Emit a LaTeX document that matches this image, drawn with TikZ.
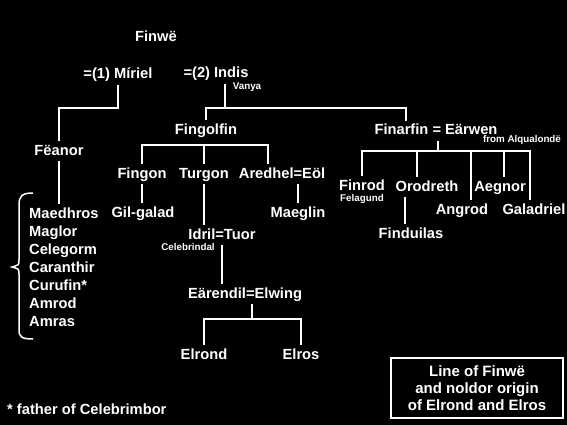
\documentclass[tikz,border=0pt]{standalone}
\usepackage{fontspec}
\setmainfont{Liberation Sans}
\usetikzlibrary{positioning}

\tikzset{
  person/.style={text=white, font=\bfseries\fontsize{14.7}{17}\selectfont,
    inner sep=3pt, text height=11pt, text depth=3pt},
  note/.style={text=white, font=\bfseries\fontsize{9.8}{11}\selectfont, inner sep=0pt},
  link/.style={draw=white, line width=2pt},
}

\begin{document}
\begin{tikzpicture}[x=1pt, y=-1pt]
\fill[black] (0,0) rectangle (567,425);
\useasboundingbox (0,0) rectangle (567,425);
% --- First generation ---
\node[person] (finwe) at (156,38) {Finwë};
\node[person] (miriel) at (118,75) {=(1) Míriel};
\node[person] (indis) at (216,74) {=(2) Indis};
\node[note] (vanya) at (247,87) {Vanya};
% --- Sons of Finwe ---
\node[person] (feanor) at (59,151) {Fëanor};
\node[person] (fingolfin) at (206,130) {Fingolfin};
\node[person] (finarfin) at (436,131) {Finarfin = Eärwen};
\node[note] (alqualonde) at (522,140) {from Alqualondë};
% --- Sons of Feanor ---
\node[person, anchor=west] (maedhros) at (26,214) {Maedhros};
\node[person, anchor=west] (maglor) at (26,232) {Maglor};
\node[person, anchor=west] (celegorm) at (26,250) {Celegorm};
\node[person, anchor=west] (caranthir) at (26,268) {Caranthir};
\node[person, anchor=west] (curufin) at (26,286) {Curufin*};
\node[person, anchor=west] (amrod) at (26,304) {Amrod};
\node[person, anchor=west] (amras) at (26,322) {Amras};
% --- House of Fingolfin ---
\node[person] (fingon) at (142,174) {Fingon};
\node[person] (turgon) at (204,174) {Turgon};
\node[person] (aredhel) at (282,174) {Aredhel=Eöl};
\node[person] (gilgalad) at (143,213) {Gil-galad};
\node[person] (maeglin) at (298,213) {Maeglin};
\node[person] (idril) at (222,235) {Idril=Tuor};
\node[note] (celebrindal) at (188,247) {Celebrindal};
\node[person] (earendil) at (245,294) {Eärendil=Elwing};
\node[person] (elrond) at (204,355) {Elrond};
\node[person] (elros) at (301,355) {Elros};
% --- House of Finarfin ---
\node[person] (finrod) at (362,186) {Finrod};
\node[note] (felagund) at (362,199) {Felagund};
\node[person] (orodreth) at (427,187) {Orodreth};
\node[person] (aegnor) at (500,187) {Aegnor};
\node[person] (angrod) at (462,210) {Angrod};
\node[person] (galadriel) at (534,210) {Galadriel};
\node[person] (finduilas) at (411,234) {Finduilas};
% --- Footnote and title box ---
\node[person, anchor=west] (footnote) at (4,410) {* father of Celebrimbor};
\node[draw=white, line width=2pt, text=white, align=center,
  font=\bfseries\fontsize{15}{17}\selectfont, minimum width=172pt, minimum height=60pt]
  (title) at (477,388) {Line of Finwë\\and noldor origin\\of Elrond and Elros};
%
% --- Bar heights ---
\coordinate (mbar) at (0,108);
\coordinate (ibar) at (0,108);
\coordinate (fbar) at (0,145);
\coordinate (abar) at (0,151);
\coordinate (ebar) at (0,319);
%
% --- Edges ---
\draw[link] (miriel.south) -- (miriel.south |- mbar) -| (feanor.north);
\draw[link] ([xshift=9pt]indis.south) -- ([xshift=9pt]indis.south |- ibar);
\draw[link] (fingolfin.north) |- ([xshift=-30pt]finarfin.north |- ibar) -- ([xshift=-30pt]finarfin.north);
\draw[link] (feanor.south) -- (feanor.south |- maedhros.north);
%
\draw[link] (fingon.north) |- ([xshift=-14pt]aredhel.north |- fbar) -- ([xshift=-14pt]aredhel.north);
\draw[link] (turgon.north) -- (turgon.north |- fbar);
\draw[link] (fingon.south) -- (fingon.south |- gilgalad.north);
\draw[link] (maeglin.north |- aredhel.south) -- (maeglin.north);
\draw[link] (turgon.south) -- (turgon.south |- idril.north);
\draw[link] (idril.south) -- (idril.south |- earendil.north);
\draw[link] ([xshift=7pt]earendil.south) -- ([xshift=7pt]earendil.south |- ebar);
\draw[link] (elrond.north) |- (elros.north |- ebar) -- (elros.north);
%
\draw[link] ([xshift=2pt]finarfin.south) -- ([xshift=2pt]finarfin.south |- abar);
\draw[link] (finrod.north) |- ([xshift=-4pt]galadriel.north |- abar) -- ([xshift=-4pt]galadriel.north);
\draw[link] ([xshift=-10pt]orodreth.north) -- ([xshift=-10pt]orodreth.north |- abar);
\draw[link] ([xshift=9pt]angrod.north) -- ([xshift=9pt]angrod.north |- abar);
\draw[link] ([xshift=4pt]aegnor.north) -- ([xshift=4pt]aegnor.north |- abar);
\draw[link] ([xshift=-6pt]finduilas.north |- orodreth.south) -- ([xshift=-6pt]finduilas.north);
%
% --- Brace round the sons of Feanor ---
\draw[white, line width=1.5pt] (33,193) .. controls (22,193) and (19,196) .. (19,205)
  -- (19,260) .. controls (19,265) .. (12,267) .. controls (19,269) .. (19,274)
  -- (19,330) .. controls (19,337) and (22,339) .. (33,339);
\end{tikzpicture}
\end{document}
